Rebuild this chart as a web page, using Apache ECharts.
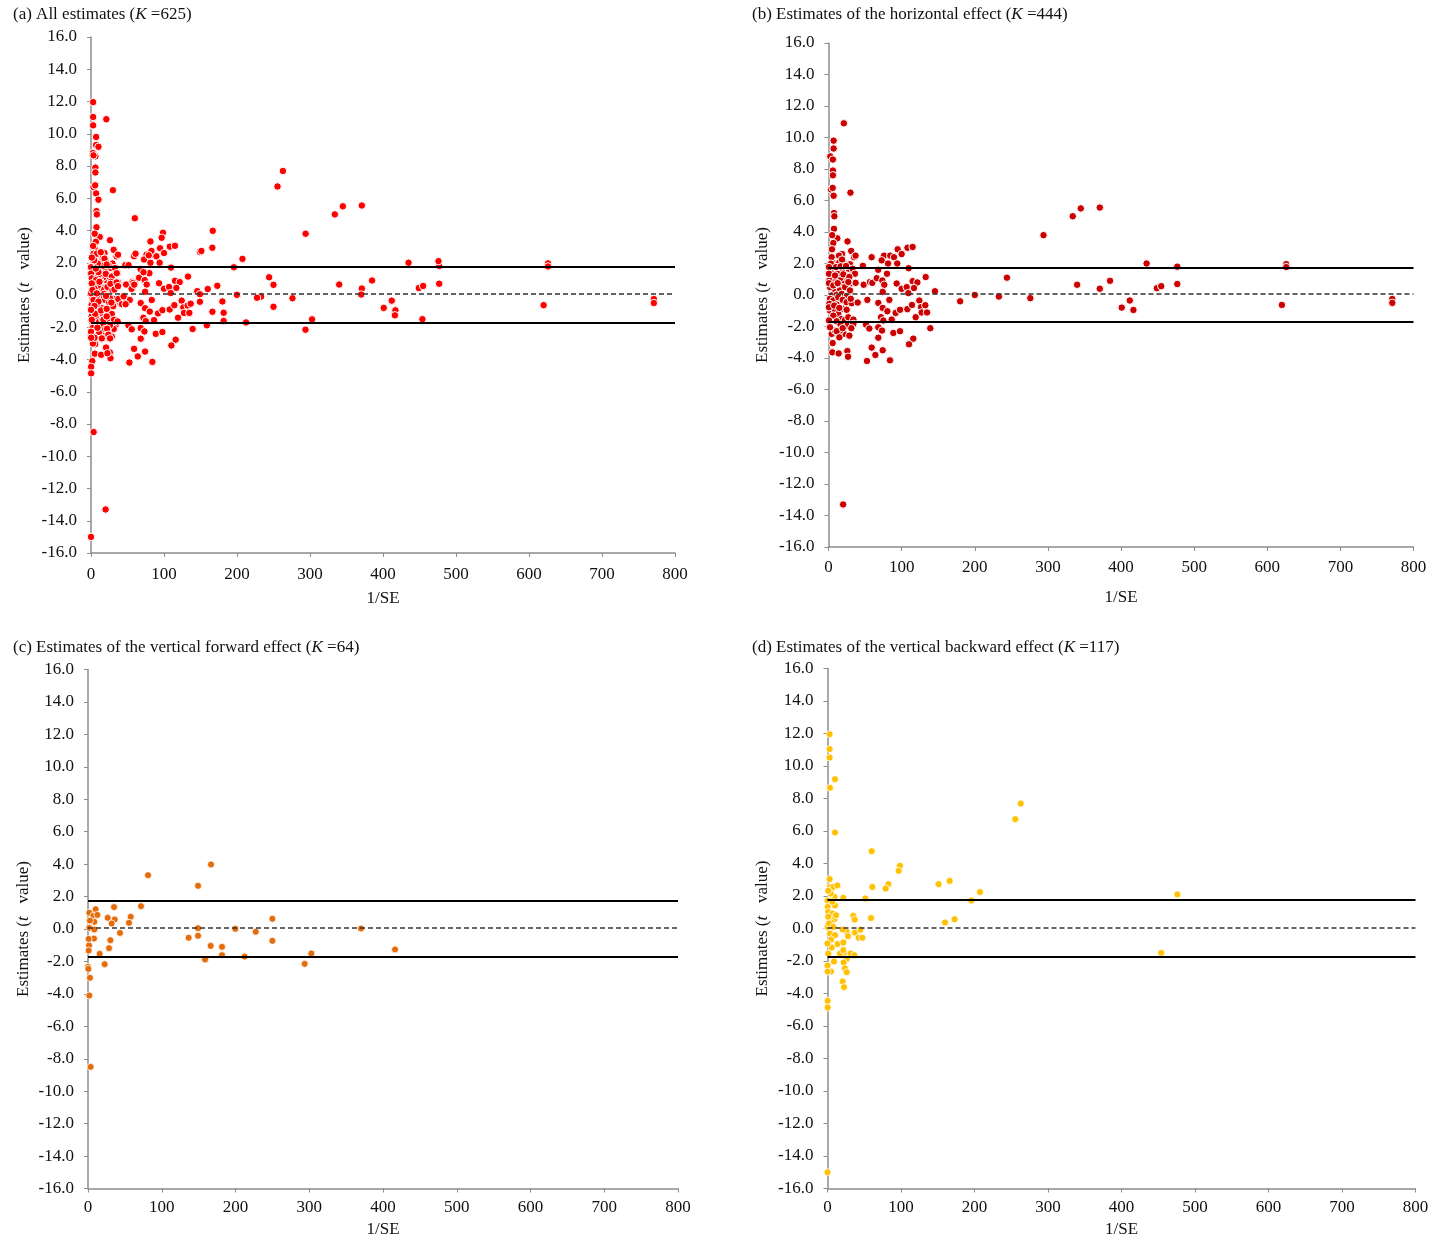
<!DOCTYPE html>
<html>
<head>
<meta charset="utf-8">
<script src="https://cdn.jsdelivr.net/npm/echarts@6/dist/echarts.min.js"></script>
<style>
  html, body { margin: 0; padding: 0; background: #fff; }
  #chart { width: 1436px; height: 1244px; }
</style>
</head>
<body>
<div id="chart"></div>
<script>
// Funnel plots: t value of each estimate against its precision (1/SE)

// Horizontal effect estimates [1/SE, t]
const horizontalPts = [
  [21,10.9],[7,9.8],[7,9.3],[2.5,8.8],[6,8.6],[6,7.9],[6,7.6],[3.4,6.7],[5.7,6.8],[30,6.5],[7,6.3],[7.5,5.2],[8,5.0],[7.5,4.2],[12,3.6],[5,3.8],[6.6,3.3],[26,3.4],
  [4.8,2.9],[31,2.8],[18.5,2.6],[14.4,2.5],[35,2.4],[37,2.5],[59,2.4],[76,2.5],[84.5,2.5],[89.6,2.4],[94.6,2.9],[100,2.6],[108,3.0],[115,3.05],[72.7,2.2],[81.4,2.0],[94,2.0],
  [4.3,2.4],[8.9,2.0],[13.4,2.0],[21,2.0],[29.4,1.95],[47,1.85],[68,1.6],[80,1.35],[109.6,1.7],[14.8,2.05],[18.5,2.25],
  [2.1,1.67],[6.6,1.56],[13.4,1.45],[20.3,1.56],[27.6,1.67],[4.3,1.14],[10.3,0.92],[15.7,0.61],[21.2,0.92],[24.8,1.14],[31.7,0.75],[37.1,0.77],[48.1,0.65],[56.7,0.82],
  [59.9,0.77],[65.9,1.07],[73.6,0.92],[76.3,0.65],[74.1,0.2],[93.2,0.73],[100,0.39],[106.9,0.5],[115.1,0.88],[121.5,0.8],[116.9,0.44],[109.2,0.12],[132.9,1.14],[145.6,0.24],
  [2.1,0.5],[8.9,0.18],[15.7,0.29],[22.6,0.5],[29.4,0.29],[1.1,0.92],[5.7,1.35],[34,1.35],[16.6,1.09],[12.1,1.35],
  [3.4,1.99],[0.7,1.77],[10.3,1.77],[16.6,1.82],[24,1.84],[33,1.67],[36.2,1.35],[0.7,1.35],[8.9,1.24],[20.3,1.31],[28.5,1.14],[0.7,0.75],[6.6,0.61],[12.5,0.75],[27.1,0.82],
  [4.3,-0.03],[11.2,0.01],[18,0.07],[24.8,-0.1],
  [2.1,-0.24],[6.6,-0.35],[13.4,-0.14],[19.4,-0.31],[24.8,-0.46],[31.7,-0.52],[39.9,-0.48],[53.1,-0.31],[68.1,-0.5],[83.2,-0.31],[74.1,-0.82],[80.5,-1.03],[71.8,-1.41],
  [75,-1.62],[86.4,-1.56],[91.8,-1.14],[97.8,-0.94],[107.8,-0.9],[114.2,-0.63],[124.2,-0.35],[126.5,-0.77],[132.4,-0.65],[127.4,-1.11],[134.7,-1.11],[119.2,-1.41],
  [2.1,-0.99],[8.9,-0.94],[13.4,-1.2],[18,-1.52],[22.6,-1.58],[27.1,-1.41],[34,-1.56],[6.6,-1.31],[20.3,-0.88],[1.1,-0.56],[11.2,-0.61],
  [0.7,-0.78],[7.8,-0.67],[14.8,-0.82],[24.8,-0.94],[30.4,-0.24],[0.7,-1.62],[11.2,-1.67],
  [16.6,-1.88],[25.8,-1.94],[34,-1.84],[4.3,-2.47],[8.9,-2.26],[21.2,-2.47],[15.7,-2.26],
  [2.1,-2.05],[11.2,-2.3],[19.4,-2.11],[31.2,-2.11],[51.3,-1.88],[55.8,-2.13],[68.1,-2.05],[73.2,-2.26],[88.7,-2.41],[97.8,-2.3],[139.2,-2.11],
  [14.8,-2.69],[28.5,-2.58],[68.1,-2.71],[116,-2.77],[110.1,-3.13],[5.7,-3.05],[5.2,-3.64],[13.9,-3.71],[25.8,-3.56],[26.7,-3.92],[59,-3.34],[74.1,-3.51],[64.1,-3.81],
  [52.6,-4.19],[84.1,-4.15],[20,-13.3],
  [180,-0.4],[200,0.0],[233,-0.1],[244,1.1],[276,-0.2],[294,3.8],[334,5.0],[345,5.5],[371,5.55],[340,0.65],[371,0.4],[385,0.9],[401,-0.8],[412,-0.35],[417,-0.95],
  [435,2.0],[449,0.43],[455,0.56],[477,1.8],[477,0.7],[620,-0.63],[626,1.96],[626,1.77],[771,-0.25],[771,-0.5]
];

// Vertical forward effect estimates [1/SE, t]
const forwardPts = [
  [81.4,3.32],[149.2,2.66],[166.8,3.98],[71.9,1.41],[35.3,1.35],[10.4,1.22],[1.8,1.0],[7.2,0.81],[12.7,0.87],[26.7,0.69],[36.2,0.59],[57.9,0.75],[55.6,0.38],[32.1,0.34],
  [8.6,0.44],[1.8,0.07],[8.6,-0.03],[43.4,-0.24],[8.1,-0.59],[30.3,-0.69],[1.4,-1.02],[0.9,-1.33],[28.5,-1.18],[15.8,-1.53],[22.6,-2.17],[0,-2.33],[2.7,-3.01],[1.8,-4.1],
  [3.6,-8.5],[2.7,0.52],[0.9,-0.61],[0.5,-2.46],
  [136.5,-0.54],[149.2,0.05],[149.2,-0.42],[166.3,-1.04],[158.7,-1.88],[181.7,-1.1],[181.7,-1.61],[199.8,0.01],[212.4,-1.7],[227.4,-0.17],[250,0.63],[250,-0.73],
  [293.8,-2.15],[302.8,-1.51],[370.2,0.03],[416.3,-1.26]
];

// Vertical backward effect estimates [1/SE, t]
const backwardPts = [
  [2.9,11.96],[2.9,11.04],[2.9,10.52],[10.2,9.19],[3.4,8.66],[10.2,5.91],[60.1,4.76],[98.6,3.86],[96.8,3.55],[82.8,2.73],[79.1,2.46],[61,2.56],[2.9,3.04],[3.4,2.56],
  [7.9,2.56],[13.4,2.65],[9.3,1.95],[21.5,1.89],[51.5,1.85],[0,1.72],[0.2,1.33],[10.2,1.42],[1.1,1.03],[6.6,0.92],[9.3,0.57],[4.8,0.39],[35.1,0.78],[37,0.55],[59.2,0.64],
  [151.2,2.73],[166.2,2.93],[195.7,1.72],[207.5,2.24],[159.9,0.37],[173,0.57],[255.5,6.73],[262.9,7.69],
  [0.2,0.1],[3.4,-0.31],[10.2,-0.41],[4.8,-0.68],[5.7,-1.17],[0,-0.92],[13.8,-0.96],[21.5,-0.86],[26.1,-0.21],[27.9,-0.47],[37.4,-0.25],[44.7,-0.08],[42.4,-0.57],[47.4,-0.57],
  [20.6,-0.06],[23.8,-1.5],[31.5,-1.54],[36.5,-1.64],[26.1,-1.87],[8.8,-2.03],[0,-2.28],[4.8,-2.65],[0.2,-2.65],[22,-2.09],[23.8,-2.46],[26.1,-2.69],[20.6,-3.26],[22.5,-3.61],
  [0.2,-4.45],[0.2,-4.86],[0,-15.0],[454,-1.5],[476,2.1],
  [1.1,0.72],[2,0.31],[7.9,0.1],[4.3,2.15],[1.1,2.32],[6.6,1.64],[11.6,0.82],[1.1,-1.54],[17,-1.54],[21.5,-1.33]
];

const allPts = horizontalPts.concat(forwardPts, backwardPts);

// Reference lines: critical t bounds and the centre line
const upperBound = 1.75;
const centreLine = 0.07;
const lowerBound = -1.72;

const xMin = 0, xMax = 800, xStep = 100;
const yMin = -16, yMax = 16, yStep = 2;

const panelTitles = [
  '(a) All estimates ({k|K} =625)',
  '(b) Estimates of the horizontal effect ({k|K} =444)',
  '(c) Estimates of the vertical forward effect ({k|K} =64)',
  '(d) Estimates of the vertical backward effect ({k|K} =117)'
];
const panelColors = ['#FF0000', '#CC0000', '#E46C0A', '#FFC000'];
const panelData = [allPts, horizontalPts, forwardPts, backwardPts];

const FONT = 'Liberation Serif';

// Panel boxes in pixels: plot area, label margins, axis-name gaps, title position
const panels = [
  { left: 91,    top: 37,    width: 584, height: 516, yGap: 58, xGap: 37, xMargin: 13, tx: 13,  ty: 6,   dot: 7.5 },
  { left: 828.5, top: 43,    width: 585, height: 504, yGap: 57, xGap: 42, xMargin: 12, tx: 752, ty: 6,   dot: 7.5 },
  { left: 88,    top: 669.5, width: 590, height: 519, yGap: 56, xGap: 33, xMargin: 11, tx: 13,  ty: 639, dot: 7 },
  { left: 827.5, top: 668.5, width: 588, height: 520, yGap: 56, xGap: 33, xMargin: 11, tx: 752, ty: 639, dot: 7 }
];

const axisGray = '#8c8c8c';
const labelStyle = { fontFamily: FONT, fontSize: 17, color: '#111' };

const option = {
  backgroundColor: '#fff',
  animation: false,
  title: panels.map((p, i) => ({
    text: panelTitles[i],
    left: p.tx,
    top: p.ty,
    padding: 0,
    textStyle: {
      fontFamily: FONT, fontSize: 17, fontWeight: 'normal', color: '#111',
      rich: { k: { fontFamily: FONT, fontSize: 17, fontStyle: 'italic', color: '#111' } }
    }
  })),
  grid: panels.map(p => ({ left: p.left, top: p.top, width: p.width, height: p.height, containLabel: false })),
  xAxis: panels.map((p, i) => ({
    type: 'value', gridIndex: i, min: xMin, max: xMax, interval: xStep,
    name: '1/SE', nameLocation: 'middle', nameGap: p.xGap,
    nameTextStyle: labelStyle,
    axisLine: { onZero: false, lineStyle: { color: axisGray, width: 1.5 } },
    axisTick: { show: true, length: 4, lineStyle: { color: axisGray, width: 1 } },
    axisLabel: Object.assign({ margin: p.xMargin, showMinLabel: true, showMaxLabel: true }, labelStyle),
    splitLine: { show: false }
  })),
  yAxis: panels.map((p, i) => ({
    type: 'value', gridIndex: i, min: yMin, max: yMax, interval: yStep,
    name: 'Estimates ({i|t }  value)', nameLocation: 'middle', nameGap: p.yGap, nameRotate: 90,
    nameTextStyle: Object.assign({ rich: { i: { fontFamily: FONT, fontSize: 17, fontStyle: 'italic', color: '#111' } } }, labelStyle),
    axisLine: { onZero: false, lineStyle: { color: axisGray, width: 1.5 } },
    axisTick: { show: true, length: 4, lineStyle: { color: axisGray, width: 1 } },
    axisLabel: Object.assign({ margin: 14, formatter: v => v.toFixed(1), showMinLabel: true, showMaxLabel: true }, labelStyle),
    splitLine: { show: false }
  })),
  series: panels.map((p, i) => ({
    type: 'scatter',
    xAxisIndex: i, yAxisIndex: i,
    data: panelData[i],
    symbolSize: p.dot,
    itemStyle: { color: panelColors[i], borderColor: '#ffffff', borderWidth: i < 2 ? 1 : 0.8, opacity: 1 },
    markLine: {
      silent: true, symbol: 'none', label: { show: false },
      data: [
        { yAxis: upperBound, lineStyle: { color: '#000', width: 2, type: 'solid' } },
        { yAxis: centreLine, lineStyle: { color: '#333', width: 1.6, type: [5, 3] } },
        { yAxis: lowerBound, lineStyle: { color: '#000', width: 2, type: 'solid' } }
      ]
    }
  }))
};

const chart = echarts.init(document.getElementById('chart'), null, { renderer: 'canvas' });
chart.setOption(option);
</script>
</body>
</html>
